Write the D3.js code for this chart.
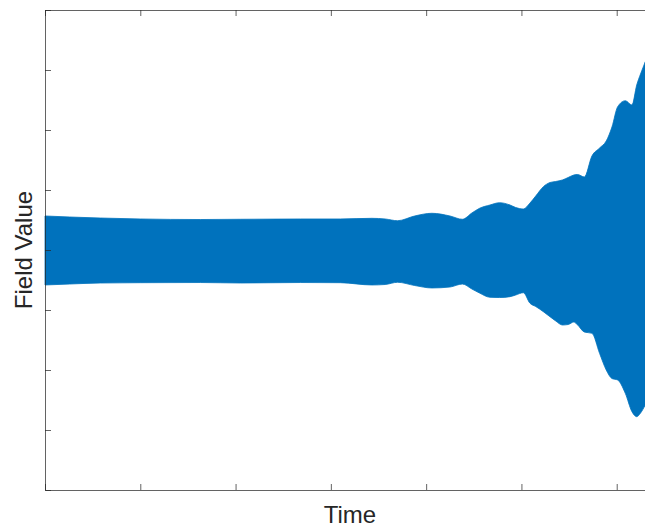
<!DOCTYPE html>
<html>
<head>
<meta charset="utf-8">
<script src="https://cdn.jsdelivr.net/npm/d3@7"></script>
<style>
  html, body { margin: 0; padding: 0; background: #fff; }
  svg { display: block; }
</style>
</head>
<body>
<svg id="chart" width="645" height="527"></svg>
<script>
// ---- data ----
const time = [0, 0.26, 0.58, 1.00, 1.63, 2.05, 2.68, 3.10, 3.43, 3.57, 3.70, 3.88, 4.06, 4.25, 4.38, 4.48,
  4.56, 4.67, 4.77, 4.88, 4.94, 5.02, 5.09, 5.15, 5.23, 5.30, 5.36, 5.43, 5.49, 5.55, 5.59, 5.66,
  5.74, 5.82, 5.89, 5.95, 6.01, 6.09, 6.16, 6.21, 6.25, 6.30];
const upperEnvelope = [0.567, 0.55, 0.533, 0.517, 0.508, 0.512, 0.517, 0.517, 0.528, 0.517, 0.488, 0.567, 0.612, 0.567, 0.512, 0.617,
  0.695, 0.75, 0.788, 0.75, 0.708, 0.683, 0.783, 0.9, 1.055, 1.125, 1.142, 1.167, 1.208, 1.25, 1.258, 1.217,
  1.567, 1.7, 1.817, 2.05, 2.388, 2.488, 2.417, 2.75, 2.933, 3.138];
const lowerEnvelope = [-0.583, -0.567, -0.55, -0.545, -0.542, -0.55, -0.542, -0.545, -0.583, -0.575, -0.538, -0.592, -0.633, -0.617, -0.567, -0.65,
  -0.717, -0.788, -0.792, -0.778, -0.75, -0.712, -0.888, -0.942, -1.028, -1.112, -1.183, -1.25, -1.242, -1.2, -1.25, -1.367,
  -1.388, -1.722, -2.0, -2.142, -2.167, -2.388, -2.695, -2.778, -2.717, -2.583];
const xTicks = [0, 1, 2, 3, 4, 5, 6, 7];
const yTicks = [-4, -3, -2, -1, 0, 1, 2, 3, 4];
const xLabel = "Time";
const yLabel = "Field Value";

(function () {
  const svg = d3.select("#chart");
  const mLeft = 45, mTop = 10, mBottom = 490, mRight = 712;
  const x = d3.scaleLinear().domain([0, 7]).range([mLeft, mRight]);
  const y = d3.scaleLinear().domain([-4, 4]).range([mBottom, mTop]);
  const axisColor = "#262626";
  const blue = "#0072BD";

  const rows = time.map((t, i) => ({ t, hi: upperEnvelope[i], lo: lowerEnvelope[i] }));

  const area = d3.area()
    .x(d => x(d.t))
    .y0(d => y(d.lo))
    .y1(d => y(d.hi))
    .curve(d3.curveMonotoneX);

  svg.append("path")
    .datum(rows)
    .attr("d", area)
    .attr("fill", blue)
    .attr("stroke", blue)
    .attr("stroke-width", 0.8);

  const tickLen = 6;
  const bottomAxis = d3.axisBottom(x).tickValues(xTicks).tickSize(-tickLen).tickSizeOuter(0).tickFormat("");
  const topAxis = d3.axisTop(x).tickValues(xTicks).tickSize(-tickLen).tickSizeOuter(0).tickFormat("");
  const leftAxis = d3.axisLeft(y).tickValues(yTicks).tickSize(-tickLen).tickSizeOuter(0).tickFormat("");
  const rightAxis = d3.axisRight(y).tickValues(yTicks).tickSize(-tickLen).tickSizeOuter(0).tickFormat("");

  function style(g) {
    g.selectAll("path, line").attr("stroke", axisColor).attr("stroke-width", 0.9).attr("opacity", 0.8);
  }
  svg.append("g").attr("transform", `translate(0,${mBottom})`).call(bottomAxis).call(style);
  svg.append("g").attr("transform", `translate(0,${mTop})`).call(topAxis).call(style);
  svg.append("g").attr("transform", `translate(${mLeft},0)`).call(leftAxis).call(style);
  svg.append("g").attr("transform", `translate(${mRight},0)`).call(rightAxis).call(style);

  svg.append("text")
    .attr("x", 350)
    .attr("y", 523)
    .attr("text-anchor", "middle")
    .attr("font-family", "Liberation Sans, Arial, sans-serif")
    .attr("font-size", 24)
    .attr("fill", axisColor)
    .text(xLabel);

  svg.append("text")
    .attr("transform", `translate(32,${(mTop + mBottom) / 2}) rotate(-90)`)
    .attr("text-anchor", "middle")
    .attr("font-family", "Liberation Sans, Arial, sans-serif")
    .attr("font-size", 24)
    .attr("fill", axisColor)
    .text(yLabel);
})();
</script>
</body>
</html>
